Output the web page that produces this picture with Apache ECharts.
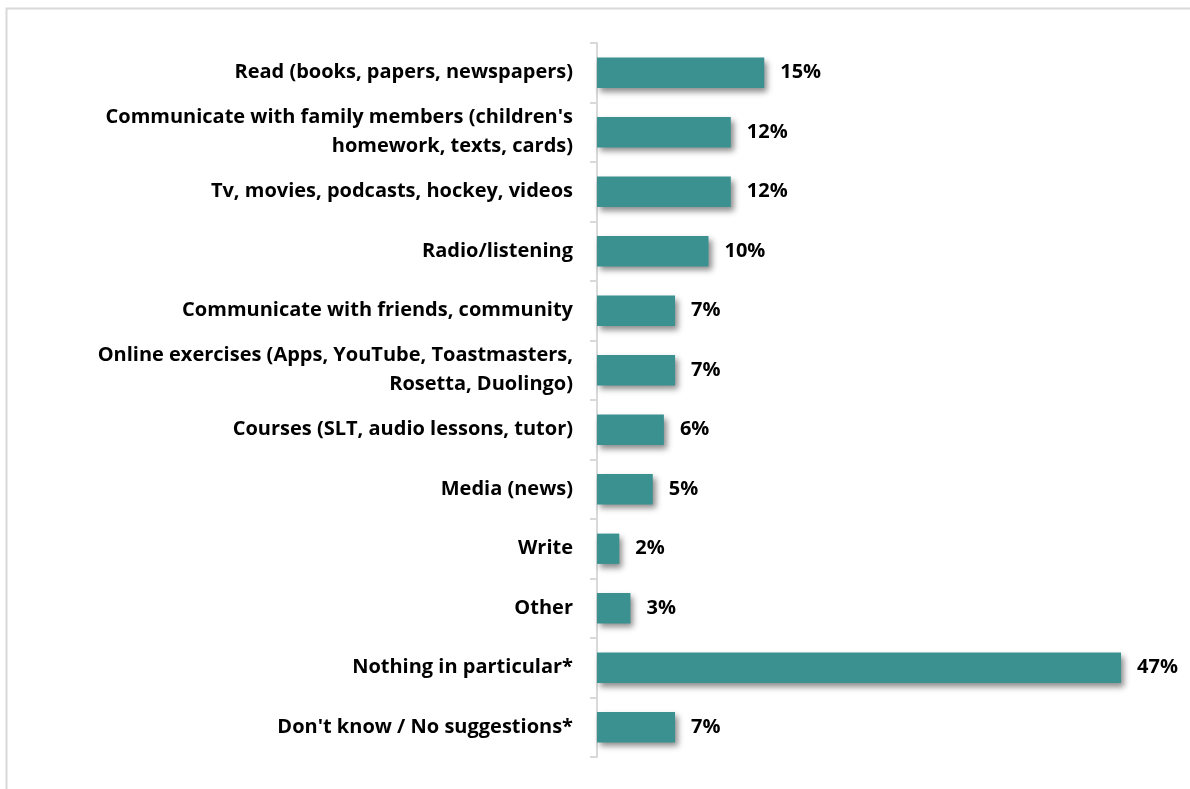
<!DOCTYPE html>
<html>
<head>
<meta charset="utf-8">
<script src="https://cdn.jsdelivr.net/npm/echarts@6/dist/echarts.min.js"></script>
<style>
  html, body { margin: 0; padding: 0; background: #fff; }
  #chart { width: 1190px; height: 789px; }
</style>
</head>
<body>
<div id="chart"></div>
<script>
// Activities, top to bottom
const categories = [
  'Read (books, papers, newspapers)',
  "Communicate with family members (children's\nhomework, texts, cards)",
  'Tv, movies, podcasts, hockey, videos',
  'Radio/listening',
  'Communicate with friends, community',
  'Online exercises (Apps, YouTube, Toastmasters,\nRosetta, Duolingo)',
  'Courses (SLT, audio lessons, tutor)',
  'Media (news)',
  'Write',
  'Other',
  'Nothing in particular*',
  "Don't know / No suggestions*"
];
// Share of respondents, percent
const shares = [15, 12, 12, 10, 7, 7, 6, 5, 2, 3, 47, 7];

const FONT = 'Open Sans';

const chart = echarts.init(document.getElementById('chart'), null, { renderer: 'canvas' });
chart.setOption({
  animation: false,
  backgroundColor: '#ffffff',
  graphic: [{
    type: 'polyline',
    shape: { points: [[6.5, 800], [6.5, 8.5], [1200, 8.5]] },
    style: { stroke: '#D9D9D9', lineWidth: 2, fill: null },
    silent: true
  }],
  grid: { left: 597, right: 35.5, top: 43, bottom: 32, containLabel: false },
  xAxis: {
    type: 'value',
    min: 0,
    max: 50,
    show: false
  },
  yAxis: {
    type: 'category',
    data: categories,
    inverse: true,
    axisLine: { show: true, lineStyle: { color: '#D9D9D9', width: 2 } },
    axisTick: { show: true, length: 7, lineStyle: { color: '#D9D9D9', width: 2 } },
    axisLabel: {
      margin: 24,
      color: '#000000',
      fontFamily: FONT,
      fontWeight: 'bold',
      fontSize: 20,
      lineHeight: 29,
      padding: [4, 0, 0, 0],
      align: 'right'
    },
    splitLine: { show: false }
  },
  series: [{
    type: 'bar',
    data: shares,
    barCategoryGap: '49%',
    itemStyle: {
      color: '#3A918F',
      shadowColor: 'rgba(0,0,0,0.45)',
      shadowBlur: 6,
      shadowOffsetX: 3,
      shadowOffsetY: 4
    },
    label: {
      show: true,
      position: 'right',
      distance: 16,
      padding: [4, 0, 0, 0],
      formatter: '{c}%',
      color: '#000000',
      fontFamily: FONT,
      fontWeight: 'bold',
      fontSize: 20
    }
  }]
});
</script>
</body>
</html>
